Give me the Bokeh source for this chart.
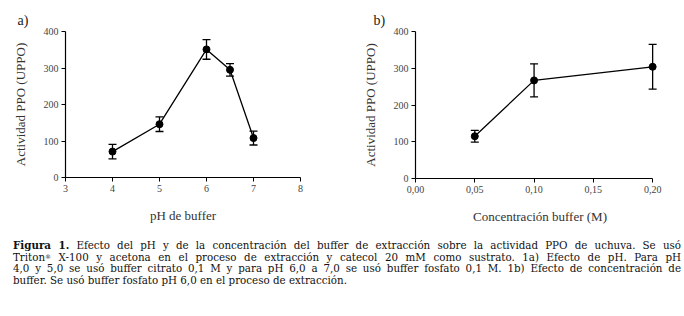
from bokeh.plotting import figure
from bokeh.models import Range1d, FixedTicker, Whisker, ColumnDataSource, Div, TeeHead
from bokeh.layouts import column, row
from bokeh.embed import file_html
from bokeh.resources import INLINE

# ---- data ----
ph = [4.0, 5.0, 6.0, 6.5, 7.0]
ph_act = [71, 146, 351, 295, 108]
ph_err = [20, 20, 27, 17, 19]

conc = [0.05, 0.10, 0.20]
conc_act = [115, 267, 304]
conc_err = [16, 45, 61]

ph_ticks = [3, 4, 5, 6, 7, 8]
conc_ticks = [0.0, 0.05, 0.10, 0.15, 0.20]
conc_tick_labels = ["0,00", "0,05", "0,10", "0,15", "0,20"]
y_ticks = [0, 100, 200, 300, 400]

ylabel = "Actividad PPO (UPPO)"
xlabel_a = "pH de buffer"
xlabel_b = "Concentración buffer (M)"

SERIF = "Liberation Serif"
CAPTION_FONT = "DejaVu Serif"


def make_fig(xs, ys, errs, xr, xbounds, xticks, xlabel, tag, tag_off,
             fw, fh, bl, br, bt, bb, overrides=None):
    p = figure(output_backend="svg", toolbar_location=None,
               frame_width=fw, frame_height=fh,
               min_border_left=bl, min_border_right=br, min_border_top=bt, min_border_bottom=bb,
               x_range=Range1d(*xr), y_range=Range1d(0, 400))
    p.outline_line_color = None
    p.grid.visible = False
    p.background_fill_color = "white"
    p.border_fill_color = "white"
    for ax in (p.xaxis[0], p.yaxis[0]):
        ax.axis_line_color = "black"
        ax.axis_line_width = 1.2
        ax.major_tick_line_color = "black"
        ax.major_tick_in = 0
        ax.major_tick_out = 4
        ax.minor_tick_line_color = None
        ax.major_label_text_font = SERIF
        ax.major_label_text_font_size = "10px"
        ax.major_label_text_color = "#444444"
        ax.major_label_standoff = 3
        ax.axis_label_text_font = SERIF
        ax.axis_label_text_font_size = "13px"
        ax.axis_label_text_font_style = "normal"
        ax.axis_label_text_color = "#333333"
    p.xaxis[0].ticker = FixedTicker(ticks=xticks)
    p.xaxis[0].bounds = xbounds
    p.yaxis[0].ticker = FixedTicker(ticks=y_ticks)
    if overrides:
        p.xaxis[0].major_label_overrides = overrides
    p.xaxis[0].axis_label = xlabel
    p.yaxis[0].axis_label = ylabel
    p.xaxis[0].axis_label_standoff = 13
    p.yaxis[0].axis_label_standoff = 13

    src = ColumnDataSource(dict(x=xs, y=ys,
                                lo=[a - e for a, e in zip(ys, errs)],
                                hi=[a + e for a, e in zip(ys, errs)]))
    p.line("x", "y", source=src, line_color="black", line_width=1.3)
    w = Whisker(base="x", lower="lo", upper="hi", source=src,
                line_color="black", line_width=1.3,
                upper_head=TeeHead(size=8, line_color="black", line_width=1.3),
                lower_head=TeeHead(size=8, line_color="black", line_width=1.3))
    p.add_layout(w)
    p.scatter("x", "y", source=src, size=7, color="black")

    p.title.text = tag
    p.title.align = "left"
    p.title.offset = tag_off
    p.title.text_font = SERIF
    p.title.text_font_size = "14px"
    p.title.text_font_style = "normal"
    p.title.text_color = "#222222"
    p.title.standoff = 8
    return p


p1 = make_fig(ph, ph_act, ph_err, (3, 8), (3, 8), ph_ticks, xlabel_a, "a)", -48,
              235, 146, 65, 40, 30, 52)
p2 = make_fig(conc, conc_act, conc_err, (0, 0.21), (0, 0.2), conc_ticks, xlabel_b, "b)", -42,
              249, 147, 75, 20, 31, 50,
              overrides={t: s for t, s in zip(conc_ticks, conc_tick_labels)})

lines = [
    "<b>Figura 1.</b> Efecto del pH y de la concentración del buffer de extracción sobre la actividad PPO de uchuva. Se usó",
    "Triton<span style='font-size:6px;line-height:6px;display:inline-block;vertical-align:2px'>®</span> X-100 y acetona en el proceso de extracción y catecol 20 mM como sustrato. 1a) Efecto de pH. Para pH",
    "4,0 y 5,0 se usó buffer citrato 0,1 M y para pH 6,0 a 7,0 se usó buffer fosfato 0,1 M. 1b) Efecto de concentración de",
    "buffer. Se usó buffer fosfato pH 6,0 en el proceso de extracción.",
]
html = ""
for i, ln in enumerate(lines):
    last = "left" if i == len(lines) - 1 else "justify"
    html += (f"<div style='width:668px;text-align:justify;text-align-last:{last};"
             f"white-space:nowrap;height:11.5px;line-height:11.5px;overflow:visible'>{ln}</div>")
caption = Div(text=html, width=684, height=88,
              styles={"font-family": CAPTION_FONT, "font-size": "10.3px", "color": "#111",
                      "padding-top": "7px", "padding-left": "8px"})

layout = column(row(p1, p2), caption)
open("out.html", "w").write(file_html(layout, INLINE))
